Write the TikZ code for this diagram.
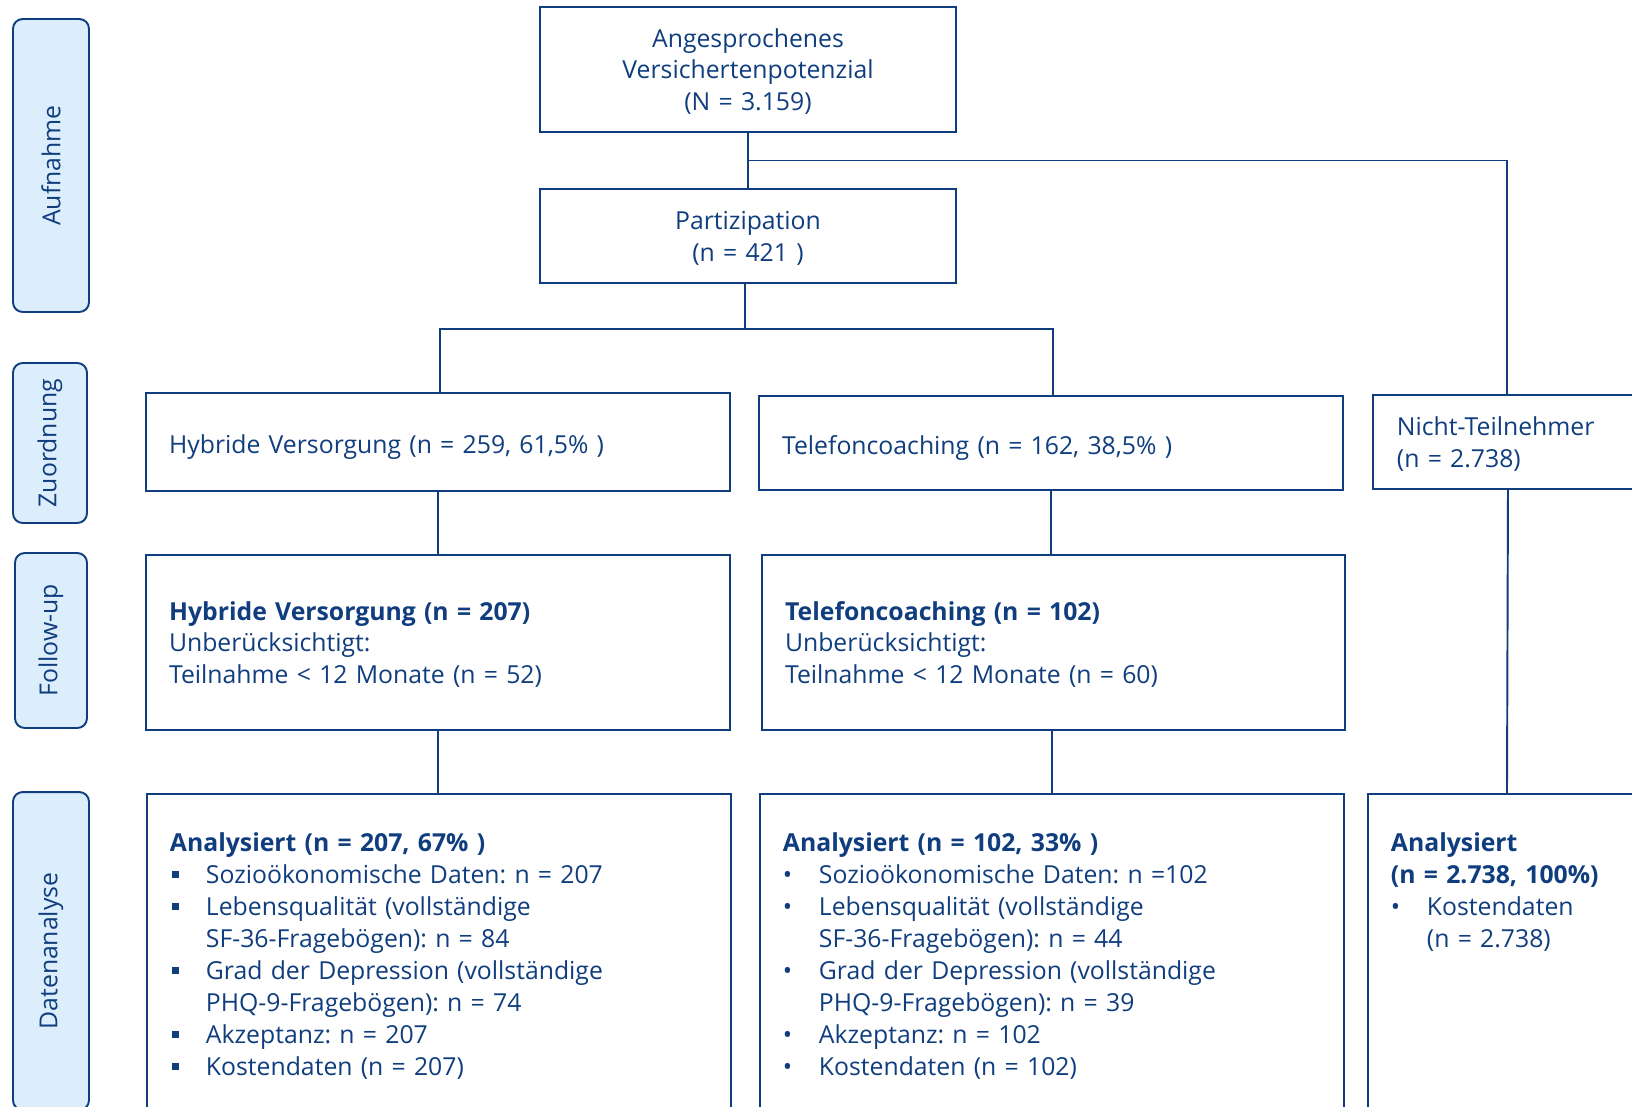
\documentclass[tikz,border=0pt]{standalone}
\usepackage{fontspec}
\setmainfont{Open Sans}
\usepackage{tikz}
\usetikzlibrary{calc}
\definecolor{navy}{HTML}{0F3D7E}
\definecolor{lablue}{HTML}{DCEEFB}
\frenchspacing
\newcommand{\diafont}{\fontsize{14.1pt}{18.2pt}\selectfont}
\newcommand{\sqitem}{\makebox[0.72cm][l]{\hspace{0.04cm}\rule[3pt]{4pt}{4pt}}}
\newcommand{\dotitem}{\makebox[0.72cm][l]{\textbullet}}
\newcommand{\itemind}{\hspace*{0.72cm}}

\begin{document}
\begin{tikzpicture}[
    x=0.02cm, y=-0.02cm,
    every node/.style={font=\diafont, text=navy},
    lab/.style={draw=navy, line width=1.1pt, fill=lablue, rounded corners=5.5pt,
                rotate=90, inner sep=0pt},
    box/.style={draw=navy, line width=1.1pt, inner xsep=0.46cm, inner ysep=0pt,
                text height=0.5cm},
    res/.style={box, anchor=north west, text width=10.76cm, align=left,
                inner ysep=0.65cm, text depth=12cm},
    con/.style={navy, line width=1.1pt}
  ]
  \path[use as bounding box, clip] (0,0) rectangle (1632,1106);

  % --- Phase labels ---
  \node[lab, minimum width=5.86cm, minimum height=1.52cm] (lauf) at (51,165.5) {Aufnahme};
  \node[lab, minimum width=3.2cm, minimum height=1.48cm] (lzuo) at (50,443) {Zuordnung};
  \node[lab, minimum width=3.5cm, minimum height=1.44cm] (lfol) at (51,640.5) {Follow-up};
  \node[lab, minimum width=6.36cm, minimum height=1.52cm] (ldat) at (51,951) {Datenanalyse};

  % --- Aufnahme ---
  \node[box, text width=7.4cm, align=center, minimum height=2.5cm, text depth=1.4cm]
        (pot) at (748,69.5)
        {Angesprochenes\\Versichertenpotenzial\\(N = 3.159)};
  \node[box, text width=7.4cm, align=center, minimum height=1.88cm, text depth=0.76cm]
        (part) at (748,236)
        {Partizipation\\(n = 421 )};

  % --- Zuordnung ---
  \node[box, text width=10.76cm, align=left, minimum height=1.96cm,
        text height=0.584cm, text depth=0.12cm] (hyb) at (438,442)
        {Hybride Versorgung (n = 259, 61,5\% )};
  \node[box, text width=10.76cm, align=left, minimum height=1.88cm,
        text height=0.584cm, text depth=0.12cm] (tel) at (1051,443)
        {Telefoncoaching (n = 162, 38,5\% )};
  \node[box, anchor=west, text width=6cm, align=left, minimum height=1.88cm,
        inner xsep=0.48cm, text depth=0.76cm] (nicht) at (1372,442)
        {Nicht-Teilnehmer\\(n = 2.738)};

  % --- Follow-up ---
  \node[box, text width=10.76cm, align=left, minimum height=3.5cm, text depth=1.4cm]
        (hfu) at (438,642.5)
        {\textbf{Hybride Versorgung (n = 207)}\\Unberücksichtigt:\\Teilnahme < 12 Monate (n = 52)};
  \node[box, text width=10.74cm, align=left, minimum height=3.5cm, text depth=1.4cm]
        (tfu) at (1053.5,642.5)
        {\textbf{Telefoncoaching (n = 102)}\\Unberücksichtigt:\\Teilnahme < 12 Monate (n = 60)};

  % --- Datenanalyse ---
  \node[res] (han) at (146,793)
        {\textbf{Analysiert (n = 207, 67\% )}\\
         \sqitem Sozioökonomische Daten: n = 207\\
         \sqitem Lebensqualität (vollständige\\
         \itemind SF-36-Fragebögen): n = 84\\
         \sqitem Grad der Depression (vollständige\\
         \itemind PHQ-9-Fragebögen): n = 74\\
         \sqitem Akzeptanz: n = 207\\
         \sqitem Kostendaten (n = 207)};
  \node[res] (tan) at (759,793)
        {\textbf{Analysiert (n = 102, 33\% )}\\
         \dotitem Sozioökonomische Daten: n =102\\
         \dotitem Lebensqualität (vollständige\\
         \itemind SF-36-Fragebögen): n = 44\\
         \dotitem Grad der Depression (vollständige\\
         \itemind PHQ-9-Fragebögen): n = 39\\
         \dotitem Akzeptanz: n = 102\\
         \dotitem Kostendaten (n = 102)};
  \node[res, text width=6cm] (nan) at (1367,793)
        {\textbf{Analysiert}\\
         \textbf{(n = 2.738, 100\%)}\\
         \dotitem Kostendaten\\
         \itemind (n = 2.738)};

  % --- Connectors ---
  \draw[con] (pot) -- (part);
  \draw[con] ($(pot.south)!0.5!(part.north)$) -| ([xshift=2.7cm]nicht.north west);
  \coordinate (split) at ($(part.south)+(-3,45)$);
  \draw[con] ([xshift=-0.06cm]part.south) -- (split);
  \draw[con] ([xshift=0.04cm]hyb.north) |- (split) -| ([xshift=0.04cm]tel.north);
  \draw[con] (hyb.south) -- (hfu.north);
  \draw[con] (tel.south) -- (tel.south |- tfu.north);
  \draw[con] (hfu.south) -- (hfu.south |- han.north);
  \draw[con] (tfu.south -| tan.north) -- (tan.north);
  \draw[con] ([xshift=2.72cm]nicht.south west) -- ([xshift=2.8cm]nan.north west);

\end{tikzpicture}
\end{document}
